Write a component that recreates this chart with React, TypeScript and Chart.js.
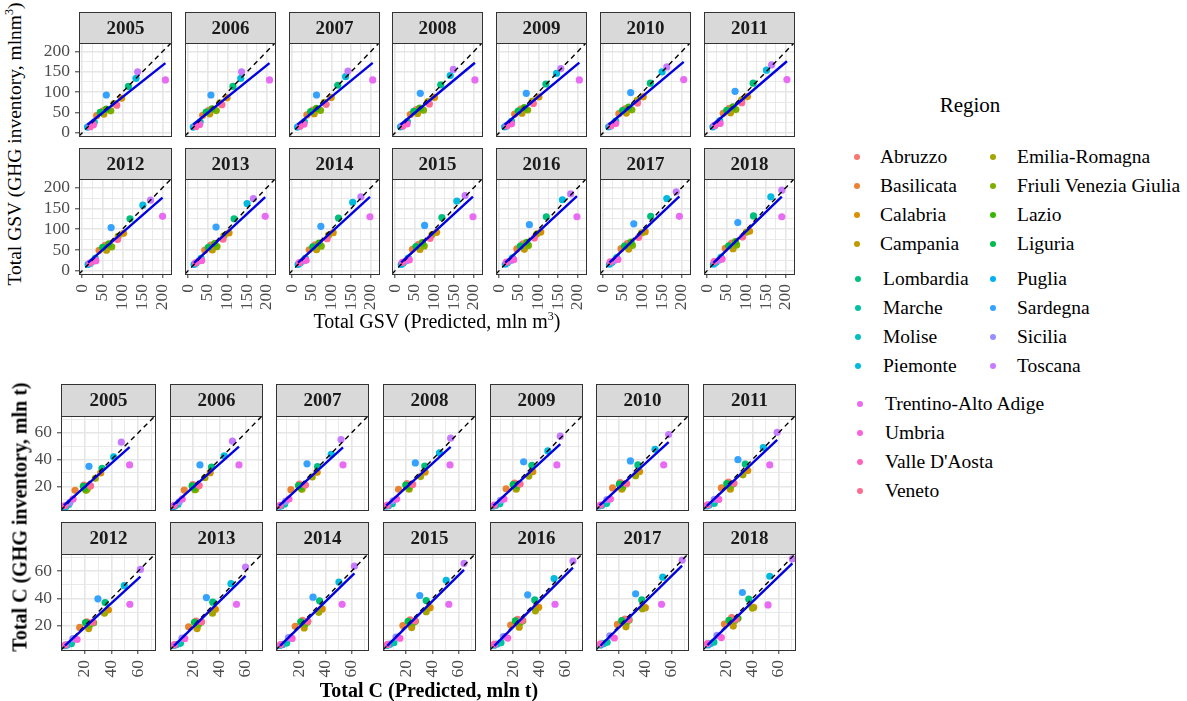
import React, { useEffect, useRef } from 'react';
import { Chart, registerables } from 'chart.js';

Chart.register(...registerables);

// ---------- data ----------
const YEARS = [2005, 2006, 2007, 2008, 2009, 2010, 2011, 2012, 2013, 2014, 2015, 2016, 2017, 2018];

const REGIONS = [
  'Abruzzo', 'Basilicata', 'Calabria', 'Campania', 'Emilia-Romagna', 'Friuli Venezia Giulia',
  'Lazio', 'Liguria', 'Lombardia', 'Marche', 'Molise', 'Piemonte', 'Puglia', 'Sardegna',
  'Sicilia', 'Toscana', 'Trentino-Alto Adige', 'Umbria', "Valle D'Aosta", 'Veneto',
];

const REGION_COLORS = [
  '#F8766D', '#EA8331', '#D89000', '#C09B00', '#A3A500', '#7CAE00', '#39B600', '#00BB4E',
  '#00BF7D', '#00C1A3', '#00BFC4', '#00BAE0', '#00B0F6', '#35A2FF', '#9590FF', '#C77CFF',
  '#E76BF3', '#FA62DB', '#FF62BC', '#FF6C91',
];

// Growing stock volume, mln m3 (rows follow REGIONS, columns follow YEARS)
const GSV_PREDICTED = [
  [52, 52.5, 53, 54, 55, 55.5, 56, 57, 57.5, 58.5, 59.5, 60.5, 61, 62],
  [36, 37, 37.5, 38.5, 39.5, 40, 41, 42, 42.5, 43.5, 44, 45, 45.5, 46],
  [98, 99, 99.5, 100, 101, 102, 102.5, 103, 104, 104.5, 105.5, 106, 107, 108],
  [54, 55, 56, 57, 58, 59, 59.5, 60.5, 61.5, 62, 63, 64, 65, 66],
  [79, 80.5, 82, 83.5, 85, 86.5, 88, 89.5, 91, 92.5, 94, 96, 98, 100],
  [71, 71.5, 72, 72, 72.5, 73, 73, 73.5, 73.5, 74, 74, 74.5, 74.5, 75],
  [60, 61, 62, 63, 64, 65, 66, 66.5, 67.5, 68.5, 69.5, 70.5, 71, 72],
  [45, 46, 47, 47.5, 48.5, 49.5, 50, 51, 51.5, 52.5, 53, 54, 54.5, 55],
  [115, 114, 116, 116, 119, 120, 117, 119, 117, 118, 119, 120, 121, 118],
  [30, 30.5, 31, 31, 31.5, 32, 32, 32.5, 33, 33.5, 33.5, 34, 34.5, 35],
  [18, 18.5, 18.5, 19, 19.5, 19.5, 20, 20.5, 20.5, 21, 21, 21.5, 22, 22],
  [134, 134, 136, 140, 146, 150, 151, 151, 150, 154, 157, 161, 162, 162],
  [13, 13, 13.5, 13.5, 14, 14, 14.5, 14.5, 15, 15, 15.5, 15.5, 16, 16],
  [60, 58, 62, 64, 69, 70, 71, 72, 71, 73, 75, 77, 78, 78],
  [25, 25.5, 26, 26, 26.5, 27, 27.5, 28, 28, 28.5, 29, 29.5, 30, 30],
  [138, 136, 142, 148, 157, 162, 164, 170, 166, 175, 178, 182, 186, 190],
  [207, 207, 205, 203, 204, 205, 203, 200, 196, 198, 198, 198, 194, 190],
  [28, 29, 30, 30.5, 31.5, 32, 33, 34, 34.5, 35.5, 36, 37, 37.5, 38],
  [20, 20, 20, 19.5, 19.5, 19.5, 19, 19, 19, 18.5, 18.5, 18.5, 18, 18],
  [86, 86, 86.5, 87, 87, 87.5, 88, 88, 88.5, 89, 89, 89.5, 90, 90],
];

const GSV_INVENTORY = [
  [54, 55, 56, 57, 58, 59, 60, 61, 61.5, 62.5, 63.5, 64.5, 65, 66],
  [42, 43, 44, 45, 46, 47, 48, 49, 49.5, 50.5, 51.5, 52.5, 53, 54],
  [85, 86, 86.5, 87, 88, 88.5, 89, 90, 91, 91.5, 92.5, 93, 94, 95],
  [46, 46.5, 47, 47.5, 48, 48.5, 49, 49.5, 50, 50.5, 51, 51.5, 52, 53],
  [72, 73.5, 75, 76.5, 78, 79.5, 81, 82.5, 84, 85.5, 87, 89, 91, 93],
  [54, 54.5, 55, 55.5, 56, 56.5, 57, 57.5, 58, 59, 59.5, 60.5, 61, 62],
  [58, 59, 60, 61, 62, 63, 64, 64.5, 65.5, 66.5, 67.5, 68.5, 69, 70],
  [50, 51, 52, 52.5, 53.5, 54.5, 55, 56, 56.5, 57.5, 58, 59, 59.5, 60],
  [114, 114, 117, 118, 120, 122, 122, 125, 125, 127, 128, 130, 131, 132],
  [26, 26.5, 27, 27.5, 28, 28.5, 29, 29.5, 30, 30, 30.5, 31, 31.5, 32],
  [16, 16.5, 16.5, 17, 17.5, 17.5, 18, 18, 18.5, 19, 19, 19.5, 20, 20],
  [134, 134, 138, 141, 146, 150, 154, 158, 162, 165, 168, 171, 174, 178],
  [14, 14, 14, 14.5, 14.5, 14.5, 14.5, 15, 15, 15, 15, 15.5, 15.5, 15.5],
  [93, 93, 93, 97, 97, 99, 102, 104, 105, 107, 109, 111, 113, 116],
  [22, 22, 22.5, 22.5, 23, 23, 23.5, 23.5, 24, 24, 24.5, 24.5, 25, 25],
  [150, 150, 152, 156, 158, 162, 167, 170, 174, 178, 181, 185, 190, 194],
  [130, 130, 130, 130, 130, 131, 131, 131, 131, 130, 130, 130, 131, 130],
  [20, 20.5, 21, 21.5, 22, 22.5, 23, 24, 24.5, 25, 26, 26.5, 27, 28],
  [15, 15.5, 16, 16.5, 17, 17.5, 18, 18.5, 19, 19.5, 20, 20.5, 21, 22],
  [68, 69, 70, 71, 72, 73, 74, 75, 76, 77, 78, 79, 80, 81],
];

// Carbon stock, mln t
const C_PREDICTED = [
  [19.5, 19.8, 20.2, 20.6, 21, 20.7, 21.7, 21.7, 22.2, 22.6, 23, 23.4, 24.4, 24.2],
  [12.8, 13.2, 13.7, 14.2, 14.6, 15, 16.3, 16.3, 16.5, 17, 17.5, 18.1, 18.7, 18.7],
  [32, 33, 33.8, 34.5, 35, 35.6, 36.5, 37.8, 37, 37.6, 38.3, 39.5, 40, 41],
  [22, 22, 22.2, 22.3, 22.3, 22, 23.2, 23, 23, 23.8, 24.2, 24.6, 25.2, 25.4],
  [28, 29, 30, 31, 32, 32.6, 32.8, 34.8, 34.8, 35, 35.3, 37, 37.8, 40],
  [21, 21.3, 21.7, 22, 22.4, 22.8, 23.3, 23.6, 24, 24.6, 25, 25.4, 26, 27],
  [20, 20.8, 21.6, 22.4, 23, 23.2, 25.4, 26.7, 26, 26.5, 27, 27.3, 27.6, 29],
  [19, 19.2, 19.5, 19.7, 20, 20.2, 20.5, 20.7, 21, 21.2, 21.5, 21.7, 22, 22.2],
  [33, 34, 34, 34.2, 34.3, 34.3, 34.6, 35.3, 35, 35.6, 35.3, 36.5, 37.3, 37.3],
  [8, 8.4, 8.9, 9.4, 9.9, 10.4, 10.9, 10.1, 10.3, 10.5, 10.6, 10.7, 10.8, 10.6],
  [6, 6.2, 6.3, 6.5, 6.7, 6.8, 7, 7.1, 7.3, 7.4, 7.6, 7.7, 7.9, 8],
  [41.7, 43.7, 44.5, 45.5, 46.5, 47.4, 48.4, 49.6, 48.9, 50.4, 50.6, 51.3, 53.3, 53.3],
  [4.5, 4.6, 4.7, 4.8, 4.9, 5, 5.1, 5.2, 5.3, 5.4, 5.5, 5.6, 5.8, 6],
  [23.2, 25.2, 26, 27, 28, 28.6, 29, 29.9, 30.1, 30.6, 30.4, 31.1, 32.6, 32.4],
  [9, 9.3, 9.6, 10, 10.3, 10.6, 11, 11.2, 11.5, 11.8, 12.2, 12.5, 12.8, 13],
  [47.4, 50, 52, 54, 56, 57.8, 59, 61.7, 60, 62.2, 64.2, 65.7, 68.1, 70.6],
  [53.6, 55, 53.5, 53.5, 53.4, 54, 53.3, 53.8, 53.1, 52.8, 52.6, 52, 52.4, 52],
  [11.3, 11.7, 12.2, 12.7, 13, 13.3, 14.3, 14.3, 13.6, 14.6, 15.2, 15.8, 16.3, 16.3],
  [5.4, 5.5, 5.5, 5.6, 5.6, 5.7, 5.8, 5.7, 5.7, 5.8, 5.8, 5.7, 5.7, 5.7],
  [24.4, 24.6, 24.8, 25, 25.3, 25.7, 26, 26.2, 26.4, 26.6, 26.8, 27, 27.2, 27.5],
];

const C_INVENTORY = [
  [21, 21.3, 21.7, 22, 22.4, 22.7, 23.2, 23, 23.5, 24, 24.4, 24.8, 25, 26],
  [17, 17.2, 17.5, 17.8, 18.2, 18.8, 18.8, 18.8, 19.3, 19.7, 20.2, 20.6, 21, 21.3],
  [30, 30.2, 30.5, 30.7, 30.9, 31, 31.8, 31.6, 32.1, 32.4, 33.3, 33.6, 33.3, 33.5],
  [18, 17.9, 17.9, 17.8, 17.8, 17.8, 17.8, 18, 18, 18.4, 18.7, 19, 19.3, 19.8],
  [26, 26.5, 27, 27.3, 27.7, 28, 28.6, 29.2, 29.2, 29.9, 30.4, 31, 32.5, 33],
  [17, 17.5, 18.1, 18.5, 19, 19.4, 20, 20.5, 21, 21.4, 22, 22.5, 23, 24],
  [18.5, 19, 19.6, 20.2, 20.8, 21.3, 22, 22.2, 22.6, 23, 23.4, 23.8, 24.2, 25.5],
  [20, 20.3, 20.6, 21, 21.3, 21.6, 22, 22.3, 22.6, 23, 23.3, 23.6, 23.8, 24],
  [33.5, 34.3, 34.8, 35.2, 35.6, 36, 36.7, 37, 37.3, 38.3, 38.5, 39, 39, 39.5],
  [6.5, 6.6, 6.8, 7, 7.1, 7.3, 7.3, 7, 7.2, 7.4, 7.6, 7.7, 7.9, 8],
  [5, 5.2, 5.3, 5.5, 5.7, 5.8, 6, 6.1, 6.3, 6.4, 6.6, 6.7, 6.9, 7],
  [42, 42.8, 44, 45, 46.5, 47.7, 49, 49.4, 50.9, 52.1, 53.3, 54.6, 55.6, 56.3],
  [5, 5, 5.1, 5.2, 5.2, 5.3, 5.4, 5.5, 5.6, 5.6, 5.7, 5.8, 5.9, 6],
  [35, 36, 36.8, 37.5, 38.3, 39, 39.9, 39.8, 40.7, 41, 42.2, 42.7, 43.5, 44.4],
  [8, 8.4, 8.8, 9.2, 9.6, 10, 10.3, 10.6, 11, 11.4, 11.8, 12.2, 12.6, 13],
  [53, 53.8, 55, 56, 57.5, 58.7, 60.4, 61.3, 63, 63.7, 65.7, 67.4, 68.1, 69],
  [36, 36, 36, 36, 36, 36, 36, 35.8, 35.8, 35.8, 35.8, 35.8, 35.8, 35.3],
  [10.5, 10.5, 10.5, 10.5, 10.5, 10.5, 10.2, 10, 10.7, 10.8, 10.9, 11, 11.1, 11.4],
  [5.6, 5.7, 5.8, 5.9, 6, 6, 6.1, 6.1, 6.2, 6.3, 6.4, 6.6, 6.8, 7],
  [20.3, 20.6, 21, 21.4, 21.7, 22, 22.3, 22.7, 23, 23.3, 23.7, 24, 24.4, 24.8],
];

const GSV_MAJOR_TICKS = [0, 50, 100, 150, 200];
const C_MAJOR_TICKS = [20, 40, 60];

// Legend arrangement (names per column block)
const LEGEND_BLOCKS = [
  ['Abruzzo', 'Basilicata', 'Calabria', 'Campania'],
  ['Emilia-Romagna', 'Friuli Venezia Giulia', 'Lazio', 'Liguria'],
  ['Lombardia', 'Marche', 'Molise', 'Piemonte'],
  ['Puglia', 'Sardegna', 'Sicilia', 'Toscana'],
  ['Trentino-Alto Adige', 'Umbria', "Valle D'Aosta", 'Veneto'],
];

// ---------- styling / layout ----------
const SERIF = '"Liberation Serif", "Times New Roman", Times, serif';

type Group = {
  pred: number[][];
  inv: number[][];
  lo: number;
  hi: number;
  step: number;
  major: number[];
  left0: number;
  pitch: number;
  plotW: number;
  plotH: number;
  stripH: number;
  stripTops: number[];
};

const GSV_GROUP: Group = {
  pred: GSV_PREDICTED, inv: GSV_INVENTORY, lo: -8, hi: 221, step: 25, major: GSV_MAJOR_TICKS,
  left0: 79, pitch: 103.83, plotW: 94, plotH: 95, stripH: 31, stripTops: [12, 148],
};

const C_GROUP: Group = {
  pred: C_PREDICTED, inv: C_INVENTORY, lo: 2.3, hi: 72.6, step: 10, major: C_MAJOR_TICKS,
  left0: 61, pitch: 106.67, plotW: 96, plotH: 96, stripH: 32, stripTops: [384, 522],
};

const LEFT_ROOM = 46;
const BOTTOM_ROOM = 44;
const PAD = 2;

const facetStrip = {
  id: 'facetStrip',
  afterDraw(chart: any, _args: any, opts: any) {
    const { ctx, chartArea: a } = chart;
    const h = opts.height;
    const l = Math.round(a.left) + 0.5;
    const t = Math.round(a.top) + 0.5;
    const w = Math.round(a.right - a.left);
    const ph = Math.round(a.bottom - a.top);
    ctx.save();
    ctx.fillStyle = '#D9D9D9';
    ctx.fillRect(l, t - h, w, h);
    ctx.strokeStyle = '#333333';
    ctx.lineWidth = 1;
    ctx.strokeRect(l, t - h, w, h);
    ctx.strokeRect(l, t, w, ph);
    ctx.fillStyle = '#1A1A1A';
    ctx.font = `bold 19px ${SERIF}`;
    ctx.textAlign = 'center';
    ctx.textBaseline = 'middle';
    ctx.fillText(opts.label, l + w / 2, t - h / 2 + 1);
    ctx.restore();
  },
};

function fitLine(xs: number[], ys: number[]) {
  const n = xs.length;
  const mx = xs.reduce((s, v) => s + v, 0) / n;
  const my = ys.reduce((s, v) => s + v, 0) / n;
  let sxy = 0;
  let sxx = 0;
  for (let i = 0; i < n; i++) {
    sxy += (xs[i] - mx) * (ys[i] - my);
    sxx += (xs[i] - mx) * (xs[i] - mx);
  }
  const b = sxy / sxx;
  const a = my - b * mx;
  const x0 = Math.min(...xs);
  const x1 = Math.max(...xs);
  return [{ x: x0, y: a + b * x0 }, { x: x1, y: a + b * x1 }];
}

function Panel({ group, yearIndex }: { group: Group; yearIndex: number }) {
  const ref = useRef<HTMLCanvasElement>(null);
  const col = yearIndex % 7;
  const row = Math.floor(yearIndex / 7);
  const showY = col === 0;
  const showX = row === 1;
  const L = showY ? LEFT_ROOM : PAD;
  const B = showX ? BOTTOM_ROOM : PAD;
  const plotLeft = Math.round(group.left0 + col * group.pitch);
  const top = group.stripTops[row];
  const width = L + group.plotW + PAD;
  const height = group.stripH + group.plotH + B;

  useEffect(() => {
    const xs = group.pred.map((r) => r[yearIndex]);
    const ys = group.inv.map((r) => r[yearIndex]);
    const isMajor = (v: number) => group.major.some((m) => Math.abs(m - v) < 1e-6);
    const tickFont = { family: SERIF, size: 17.5 };

    const axis = (isX: boolean, show: boolean, room: number) => ({
      type: 'linear' as const,
      min: group.lo,
      max: group.hi,
      border: { display: false },
      grid: {
        color: '#E6E6E6',
        lineWidth: (c: any) => (c.tick && isMajor(c.tick.value) ? 1.6 : 0.9),
        drawTicks: show,
        tickLength: 4,
        tickWidth: 1,
        tickColor: (c: any) => (c.tick && isMajor(c.tick.value) ? '#333333' : 'rgba(0,0,0,0)'),
      },
      ticks: {
        display: show,
        stepSize: group.step,
        includeBounds: false,
        autoSkip: false,
        color: '#4D4D4D',
        font: tickFont,
        padding: isX ? 6 : 5,
        ...(isX ? { minRotation: 90, maxRotation: 90 } : {}),
        callback: (v: any) => (isMajor(Number(v)) ? String(v) : ''),
      },
      afterFit: (s: any) => {
        if (isX) s.height = room;
        else s.width = room;
        s.paddingLeft = 0;
        s.paddingRight = 0;
        s.paddingTop = 0;
        s.paddingBottom = 0;
      },
    });

    const chart = new Chart(ref.current as HTMLCanvasElement, {
      type: 'scatter',
      data: {
        datasets: [
          {
            type: 'line',
            data: fitLine(xs, ys),
            borderColor: '#0000E0',
            borderWidth: 2.4,
            pointRadius: 0,
            order: 0,
          },
          {
            type: 'line',
            data: [{ x: group.lo, y: group.lo }, { x: group.hi, y: group.hi }],
            borderColor: '#000000',
            borderWidth: 1.4,
            borderDash: [5, 4],
            pointRadius: 0,
            order: 1,
          },
          {
            type: 'scatter',
            data: xs.map((x, i) => ({ x, y: ys[i] })),
            pointRadius: 3.6,
            pointBorderWidth: 0,
            pointBackgroundColor: REGION_COLORS,
            order: 2,
          },
        ],
      } as any,
      options: {
        responsive: false,
        animation: false,
        events: [],
        layout: { padding: { top: group.stripH, right: PAD, left: 0, bottom: 0 } },
        scales: {
          x: axis(true, showX, B),
          y: axis(false, showY, L),
        } as any,
        plugins: {
          legend: { display: false },
          tooltip: { enabled: false },
          facetStrip: { height: group.stripH, label: String(YEARS[yearIndex]) },
        } as any,
      },
      plugins: [facetStrip],
    });
    return () => chart.destroy();
  }, []);

  return (
    <canvas
      ref={ref}
      width={width}
      height={height}
      style={{ position: 'absolute', left: plotLeft - L, top, width, height }}
    />
  );
}

const textBase: React.CSSProperties = {
  position: 'absolute',
  fontFamily: SERIF,
  color: '#000',
  whiteSpace: 'nowrap',
};

function Legend() {
  const blockPos = [
    { dot: 857, text: 880, y0: 157.3 },
    { dot: 993, text: 1017, y0: 157.3 },
    { dot: 858, text: 883, y0: 279.3 },
    { dot: 993, text: 1017, y0: 279.3 },
    { dot: 860, text: 885, y0: 404 },
  ];
  const step = 29;
  return (
    <>
      <div style={{ ...textBase, left: 970, top: 105, fontSize: 21, transform: 'translate(-50%, -50%)' }}>Region</div>
      {LEGEND_BLOCKS.map((names, b) =>
        names.map((name, i) => {
          const y = blockPos[b].y0 + i * step;
          const color = REGION_COLORS[REGIONS.indexOf(name)];
          return (
            <React.Fragment key={name}>
              <div
                style={{
                  position: 'absolute', left: blockPos[b].dot - 3, top: y - 3, width: 6, height: 6,
                  borderRadius: '50%', background: color,
                }}
              />
              <div style={{ ...textBase, left: blockPos[b].text, top: y - 12, height: 24, lineHeight: '24px', fontSize: 19.5 }}>
                {name}
              </div>
            </React.Fragment>
          );
        }),
      )}
    </>
  );
}

export default function App() {
  return (
    <div style={{ position: 'fixed', left: 0, top: 0, width: 1187, height: 701, background: '#fff', overflow: 'hidden' }}>
      {YEARS.map((_, i) => (
        <Panel key={`g${i}`} group={GSV_GROUP} yearIndex={i} />
      ))}
      {YEARS.map((_, i) => (
        <Panel key={`c${i}`} group={C_GROUP} yearIndex={i} />
      ))}

      <div style={{ ...textBase, left: 14, top: 144, fontSize: 19.5, transform: 'translate(-50%, -50%) rotate(-90deg)' }}>
        Total GSV (GHG inventory, mlnm<sup style={{ fontSize: 12 }}>3</sup>)
      </div>
      <div style={{ ...textBase, left: 437, top: 321, fontSize: 20, transform: 'translate(-50%, -50%)' }}>
        Total GSV (Predicted, mln m<sup style={{ fontSize: 12 }}>3</sup>)
      </div>
      <div style={{ ...textBase, left: 20, top: 517, fontSize: 20, fontWeight: 'bold', transform: 'translate(-50%, -50%) rotate(-90deg)' }}>
        Total C (GHG inventory, mln t)
      </div>
      <div style={{ ...textBase, left: 429, top: 690, fontSize: 20, fontWeight: 'bold', transform: 'translate(-50%, -50%)' }}>
        Total C (Predicted, mln t)
      </div>

      <Legend />
    </div>
  );
}
